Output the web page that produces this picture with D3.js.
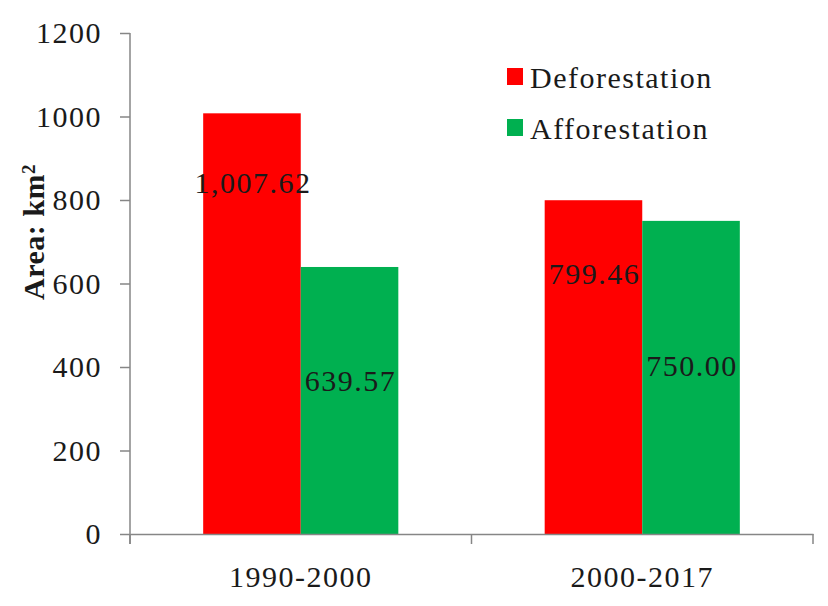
<!DOCTYPE html>
<html>
<head>
<meta charset="utf-8">
<script src="https://cdn.jsdelivr.net/npm/d3@7"></script>
<style>
  body { margin: 0; background: #fff; }
  text { font-family: "Liberation Serif", "Times New Roman", serif; fill: #1a1a1a; }
</style>
</head>
<body>
<div id="chart"></div>
<script>
const width = 828;
const height = 606;

// data
const periods = ["1990-2000", "2000-2017"];
const seriesNames = ["Deforestation", "Afforestation"];
const deforestation = [1007.62, 799.46];
const afforestation = [639.57, 750.0];
const valueLabels = [["1,007.62", "639.57"], ["799.46", "750.00"]];
const yTicks = [0, 200, 400, 600, 800, 1000, 1200];

const colors = ["#ff0000", "#00b050"];
// label centres sit this far under the top of each bar (px), as placed in the original
const labelDrop = [[69, 114], [73, 145]];

const margin = { left: 130, right: 15, top: 33, bottom: 72 };
const x0 = margin.left;
const x1 = width - margin.right;
const yBottom = height - margin.bottom;

const svg = d3
  .select("#chart")
  .append("svg")
  .attr("width", width)
  .attr("height", height);

const xScale = d3.scaleBand().domain(periods).range([x0, x1]);

// two bars per group, gap width 150% like Excel
const barW = xScale.bandwidth() / 3.5;
const xInner = d3
  .scaleBand()
  .domain(seriesNames)
  .range([-barW, barW]);

const yScale = d3.scaleLinear().domain([0, 1200]).range([yBottom, margin.top]);

const rows = periods.map((p, i) => ({
  period: p,
  values: [deforestation[i], afforestation[i]],
  labels: valueLabels[i],
  drops: labelDrop[i]
}));

// bars
const groups = svg
  .selectAll("g.group")
  .data(rows)
  .enter()
  .append("g")
  .attr("class", "group")
  .attr("transform", (d) => `translate(${xScale(d.period) + xScale.bandwidth() / 2},0)`);

groups
  .selectAll("rect")
  .data((d) => d.values.map((v, j) => ({ v, j })))
  .enter()
  .append("rect")
  .attr("x", (d) => xInner(seriesNames[d.j]))
  .attr("width", xInner.bandwidth())
  .attr("y", (d) => yScale(d.v))
  .attr("height", (d) => yBottom - yScale(d.v))
  .attr("fill", (d) => colors[d.j]);

// value labels
groups
  .selectAll("text.val")
  .data((d) => d.values.map((v, j) => ({ v, j, label: d.labels[j], drop: d.drops[j] })))
  .enter()
  .append("text")
  .attr("class", "val")
  .attr("x", (d) => xInner(seriesNames[d.j]) + xInner.bandwidth() / 2 + 1)
  .attr("y", (d) => yScale(d.v) + d.drop)
  .attr("dy", "0.35em")
  .attr("text-anchor", "middle")
  .style("font-size", "30px")
  .style("letter-spacing", "1.5px")
  .text((d) => d.label);

// y axis
const yAxis = d3
  .axisLeft(yScale)
  .tickValues(yTicks)
  .tickFormat(d3.format("d"))
  .tickSize(10)
  .tickPadding(18)
  .tickSizeOuter(0);

const gy = svg
  .append("g")
  .attr("transform", `translate(${x0},0)`)
  .call(yAxis);

gy.select(".domain").attr("stroke", "#868686").attr("stroke-width", 1.5)
  .attr("d", `M0,${margin.top}V${yBottom + 10}`);
gy.selectAll(".tick line").attr("stroke", "#868686").attr("stroke-width", 1.5);
gy.selectAll(".tick text")
  .style("font-size", "30px")
  .style("letter-spacing", "1.5px")
  .attr("font-family", null)
  .attr("fill", "#1a1a1a");

// x axis
const xAxis = d3
  .axisBottom(xScale)
  .tickSize(0)
  .tickPadding(32)
  .tickSizeOuter(0);

const gx = svg
  .append("g")
  .attr("transform", `translate(0,${yBottom})`)
  .call(xAxis);

gx.select(".domain").attr("stroke", "#868686").attr("stroke-width", 1.5);
gx.selectAll(".tick text")
  .style("font-size", "30px")
  .style("letter-spacing", "1.5px")
  .attr("font-family", null)
  .attr("fill", "#1a1a1a");

// category separators on the x axis
const edges = periods.map((p) => xScale(p)).concat([x1]);
gx.selectAll("line.sep")
  .data(edges)
  .enter()
  .append("line")
  .attr("class", "sep")
  .attr("x1", (d) => d)
  .attr("x2", (d) => d)
  .attr("y1", 0)
  .attr("y2", 10)
  .attr("stroke", "#868686")
  .attr("stroke-width", 1.5);

// y axis title
const title = svg
  .append("text")
  .attr("transform", "translate(44,232) rotate(-90)")
  .attr("text-anchor", "middle")
  .style("font-size", "30px")
  .style("font-weight", "bold")
  .style("letter-spacing", "0.5px");
title.append("tspan").text("Area: km");
title.append("tspan").attr("dy", "-0.45em").style("font-size", "19px").text("2");

// legend
const legend = svg
  .append("g")
  .attr("transform", "translate(507,68)")
  .selectAll("g")
  .data(seriesNames)
  .enter()
  .append("g")
  .attr("transform", (d, i) => `translate(0,${i * 51})`);

legend
  .append("rect")
  .attr("width", 16)
  .attr("height", 17)
  .attr("fill", (d, i) => colors[i]);

legend
  .append("text")
  .attr("x", 23)
  .attr("y", 9)
  .attr("dy", "0.35em")
  .style("font-size", "30px")
  .style("letter-spacing", "1.5px")
  .text((d) => d);
</script>
</body>
</html>
